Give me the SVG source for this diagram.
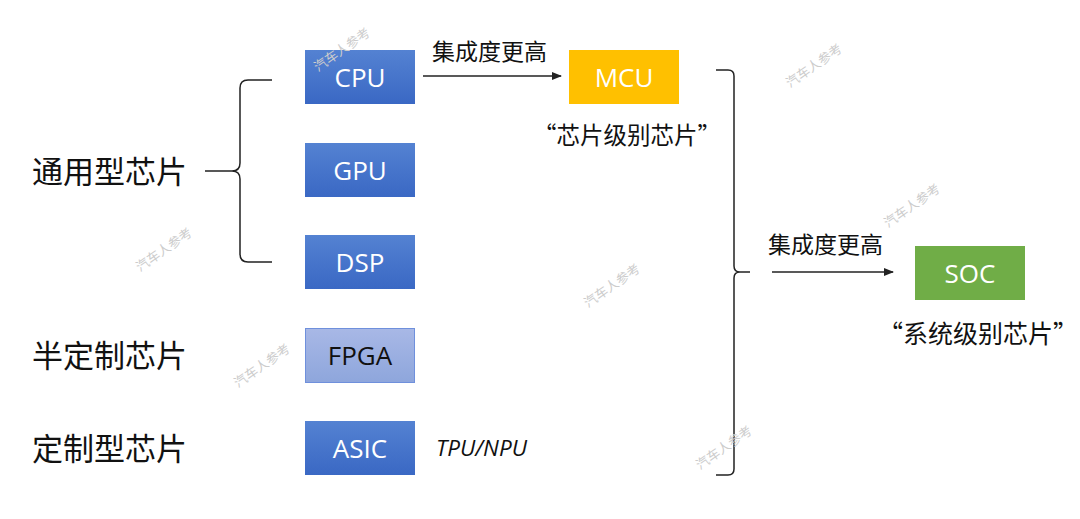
<svg xmlns="http://www.w3.org/2000/svg" width="1080" height="519" viewBox="0 0 1080 519">
<style>
.t{font-family:"Noto Sans CJK SC","Noto Sans",sans-serif;fill:#111}
.b{font-family:"Open Sans","Noto Sans",sans-serif;font-size:26px;text-anchor:middle}
.w{fill:#fff}
.ln{fill:none;stroke:#222;stroke-width:1.5}
.wm{font-family:"Noto Sans CJK SC",sans-serif;font-size:13px;fill:#ccc}
</style>
<defs>
<linearGradient id="blue" x1="0" y1="0" x2="0" y2="1"><stop offset="0" stop-color="#5482d2"/><stop offset="1" stop-color="#3a68c4"/></linearGradient>
<linearGradient id="lb" x1="0" y1="0" x2="0" y2="1"><stop offset="0" stop-color="#a8b8e6"/><stop offset="1" stop-color="#8ea6dc"/></linearGradient>
<marker id="ah" markerWidth="10" markerHeight="8" refX="9" refY="4" orient="auto" markerUnits="userSpaceOnUse"><path d="M0,0 L10,4 L0,8 Z" fill="#222"/></marker>
</defs>
<rect width="1080" height="519" fill="#fff"/>
<g id="cpu"><rect x="305" y="50" width="110" height="54" fill="url(#blue)"/><text class="b w" x="360" y="87">CPU</text></g>
<g id="gpu"><rect x="305" y="143" width="110" height="54" fill="url(#blue)"/><text class="b w" x="360" y="180">GPU</text></g>
<g id="dsp"><rect x="305" y="235" width="110" height="54" fill="url(#blue)"/><text class="b w" x="360" y="272">DSP</text></g>
<g id="fpga"><rect x="305.5" y="328.5" width="109" height="54" fill="url(#lb)" stroke="#6f90dc"/><text class="b" x="360" y="365" fill="#111">FPGA</text></g>
<g id="asic"><rect x="305" y="421" width="110" height="54" fill="url(#blue)"/><text class="b w" x="360" y="458">ASIC</text></g>
<g id="mcu"><rect x="569" y="50" width="110" height="54" fill="#ffc000"/><text class="b w" x="624" y="87">MCU</text></g>
<g id="soc"><rect x="915" y="246" width="110" height="54" fill="#70ad47"/><text class="b w" x="970" y="283">SOC</text></g>
<g id="labels">
<text class="t" x="32" y="183" font-size="31">通用型芯片</text>
<text class="t" x="32" y="367" font-size="31">半定制芯片</text>
<text class="t" x="32" y="460" font-size="31">定制型芯片</text>
<text class="t" x="432" y="60" font-size="23">集成度更高</text>
<text class="t" x="768" y="253" font-size="23">集成度更高</text>
<text class="t" x="533" y="144" font-size="23.5">“芯片级别芯片”</text>
<text class="t" x="878" y="343" font-size="25">“系统级别芯片”</text>
<text x="436" y="456" font-family="Open Sans,sans-serif" font-style="italic" font-size="22.5" fill="#111">TPU/NPU</text>
</g>
<g id="connectors">
<path class="ln" d="M272,80 H248 Q240,80 240,88 V163 Q240,171 232,171 H205 M232,171 Q240,171 240,179 V254 Q240,262 248,262 H272"/>
<path class="ln" d="M716,70 H728 Q734,70 734,76 V266 Q734,272 740,272 H750 M740,272 Q734,272 734,278 V469 Q734,475 728,475 H716"/>
<line class="ln" x1="423" y1="76" x2="561" y2="76" marker-end="url(#ah)"/>
<line class="ln" x1="772" y1="272" x2="893" y2="272" marker-end="url(#ah)"/>
</g>
<g id="watermarks">
<text class="wm" transform="translate(318,72) rotate(-35)">汽车人参考</text>
<text class="wm" transform="translate(790,88) rotate(-35)">汽车人参考</text>
<text class="wm" transform="translate(140,272) rotate(-35)">汽车人参考</text>
<text class="wm" transform="translate(888,228) rotate(-35)">汽车人参考</text>
<text class="wm" transform="translate(588,308) rotate(-35)">汽车人参考</text>
<text class="wm" transform="translate(238,388) rotate(-35)">汽车人参考</text>
<text class="wm" transform="translate(700,470) rotate(-35)">汽车人参考</text>
</g>
</svg>
